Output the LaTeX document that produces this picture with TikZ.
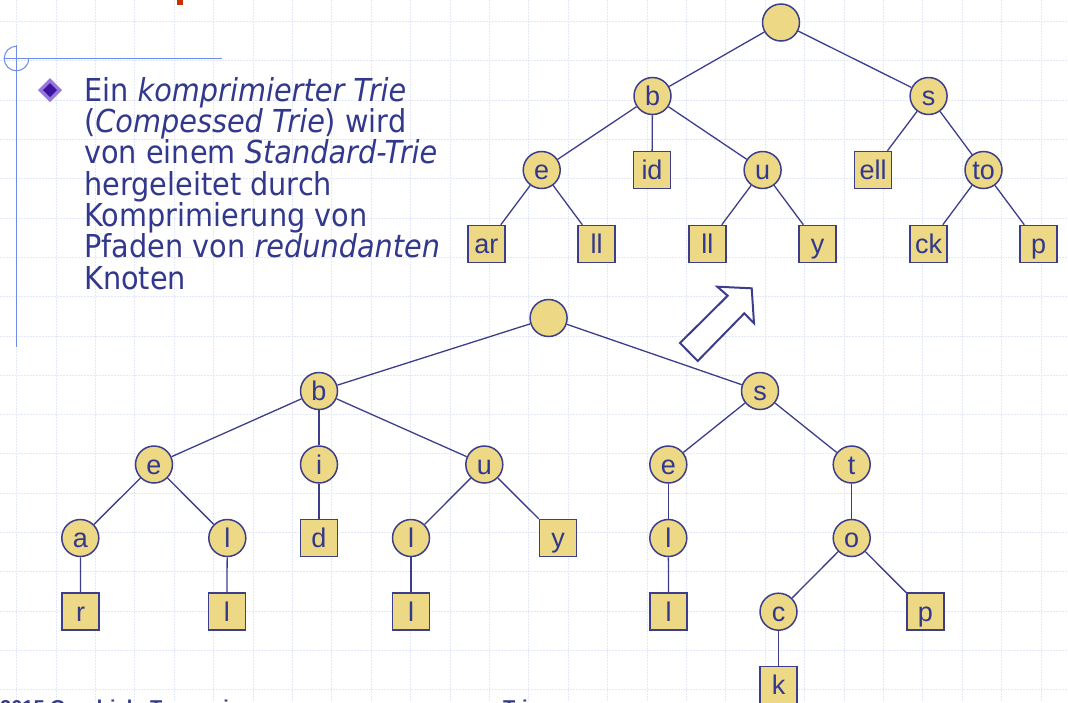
\documentclass[tikz,border=0pt]{standalone}
\usepackage{fontspec}
\setmainfont{Liberation Sans}
\newfontfamily\slidefont[FakeStretch=0.91]{DejaVu Sans}
\definecolor{knotfill}{RGB}{236,216,133}
\definecolor{lineblue}{RGB}{60,62,140}
\definecolor{textblue}{RGB}{50,56,140}
\definecolor{gridblue}{RGB}{226,232,250}
\definecolor{rulerblue}{RGB}{110,140,240}
\definecolor{titlered}{RGB}{200,50,0}
\definecolor{bulletlight}{RGB}{150,120,220}
\definecolor{bulletdark}{RGB}{60,20,160}

\begin{document}
\begin{tikzpicture}[x=1pt,y=-1pt,
    knot/.style={circle,draw=lineblue,fill=knotfill,line width=1.5pt,
      minimum size=37pt,inner sep=0pt,text=textblue,
      text height=19.5pt,text depth=0pt,
      font=\fontsize{27}{30}\selectfont},
    leaf/.style={rectangle,draw=lineblue,fill=knotfill,line width=1.5pt,
      minimum size=37pt,inner sep=0pt,text=textblue,
      text height=19.5pt,text depth=0pt,
      font=\fontsize{27}{30}\selectfont}]

        \useasboundingbox (0,0) rectangle (1068,702);
        \fill[white] (0,0) rectangle (1068,702);

        % background grid
        \begin{scope}[gridblue,line width=0.8pt,dash pattern=on 2pt off 1pt]
          \foreach \k in {0,...,26}
            \draw (16.5+39.4*\k,0) -- ++(0,702);
          \foreach \k in {0,...,17}
            \draw (0,21.5+39.3*\k) -- ++(1068,0);
        \end{scope}

        % slide decoration
        \fill[titlered] (177,0) rectangle (183,5);
        \draw[rulerblue,line width=1pt] (16.5,45) -- (16.5,347);
        \draw[rulerblue,line width=1pt] (4,58.5) -- (222,58.5);
        \draw[rulerblue,line width=1pt] (28.8,58.5) arc (0:270:12.3);
        \fill[bulletlight] (50,78) -- (62,90) -- (50,102) -- (38,90) -- cycle;
        \fill[bulletdark] (50,83) -- (57,90) -- (50,97) -- (43,90) -- cycle;

        \node[anchor=north west,inner sep=0pt,align=left,text=textblue,
          font=\slidefont\fontsize{31.6}{31.3}\selectfont] (intro) at (84,77)
          {Ein \textit{komprimierter Trie}\\
           (\textit{Compessed Trie}) wird\\
           von einem \textit{Standard-Trie}\\
           hergeleitet durch\\
           Komprimierung von\\
           Pfaden von \textit{redundanten}\\
           Knoten};

        % compressed trie
        \begin{scope}[every node/.style={knot}]
          \node (c0)  at (781,22.5) {};
          \node (cb)  at (652.5,96) {b};
          \node (cs)  at (928.6,96) {s};
          \node (ce)  at (541.7,170) {e};
          \node (cu)  at (762.6,170) {u};
          \node (cto) at (983.5,170) {to};
        \end{scope}

        \begin{scope}[every node/.style={leaf}]
          \node (cid)  at (652,170) {id};
          \node (cell) at (873,170) {ell};
          \node (car)  at (486.4,244) {ar};
          \node (cll)  at (596.6,244) {ll};
          \node (cull) at (707.4,244) {ll};
          \node (cy)   at (817.7,244) {y};
          \node (cck)  at (928.5,244) {ck};
          \node (cp)   at (1038.6,244) {p};
        \end{scope}

        % standard trie
        \begin{scope}[every node/.style={knot}]
          \node (s0)  at (548.6,318) {};
          \node (sb)  at (319,391) {b};
          \node (ss)  at (760,391) {s};
          \node (sbe) at (154,464.5) {e};
          \node (si)  at (319,464.5) {i};
          \node (su)  at (484.3,464.5) {u};
          \node (sse) at (668.3,464.5) {e};
          \node (st)  at (851.7,464.5) {t};
          \node (sa)  at (80.3,538) {a};
          \node (sel) at (227.3,538) {l};
          \node (sul) at (411,538) {l};
          \node (ssl) at (668.3,538) {l};
          \node (so)  at (851.7,538) {o};
          \node (sc)  at (778.5,611.7) {c};
        \end{scope}

        \begin{scope}[every node/.style={leaf}]
          \node (sd)   at (319,538) {d};
          \node (sy)   at (558,538) {y};
          \node (sr)   at (80.7,611.7) {r};
          \node (sell) at (226.8,611.7) {l};
          \node (sull) at (411,611.7) {l};
          \node (sssl) at (668.6,611.7) {l};
          \node (sp)   at (925.3,611.7) {p};
          \node (sk)   at (778.5,685.2) {k};
        \end{scope}

        \begin{scope}[every edge/.style={draw=lineblue,line width=1.3pt}]
          \path (c0)  edge (cb);
          \path (c0)  edge (cs);
          \path (cb)  edge (ce);
          \path (cb)  edge (cid);
          \path (cb)  edge (cu);
          \path (cs)  edge (cell);
          \path (cs)  edge (cto);
          \path (ce)  edge (car);
          \path (ce)  edge (cll);
          \path (cu)  edge (cull);
          \path (cu)  edge (cy);
          \path (cto) edge (cck);
          \path (cto) edge (cp);

          \path (s0)  edge (sb);
          \path (s0)  edge (ss);
          \path (sb)  edge (sbe);
          \path (sb)  edge (si);
          \path (sb)  edge (su);
          \path (ss)  edge (sse);
          \path (ss)  edge (st);
          \path (sbe) edge (sa);
          \path (sbe) edge (sel);
          \path (si)  edge (sd);
          \path (su)  edge (sul);
          \path (su)  edge (sy);
          \path (sse) edge (ssl);
          \path (st)  edge (so);
          \path (sa)  edge (sr);
          \path (sel) edge (sell);
          \path (sul) edge (sull);
          \path (ssl) edge (sssl);
          \path (so)  edge (sc);
          \path (so)  edge (sp);
          \path (sc)  edge (sk);
        \end{scope}

        % hollow arrow
        \draw[lineblue,fill=white,line width=2pt,line join=miter]
          (680,343) -- (727.7,295.7) -- (717.3,286.7) -- (751.7,288.3)
          -- (754,323.3) -- (744.3,313.3) -- (697.7,361) -- cycle;

        % footer
        \node[anchor=north west,inner sep=0pt,text=textblue,
          font=\bfseries\fontsize{20}{22}\selectfont] (foot) at (0,700)
          {2015 Goodrich, Tamassia};
        \node[anchor=north west,inner sep=0pt,text=textblue,
          font=\bfseries\fontsize{20}{22}\selectfont] (topic) at (503,700)
          {Tries};

      \end{tikzpicture}
\end{document}
